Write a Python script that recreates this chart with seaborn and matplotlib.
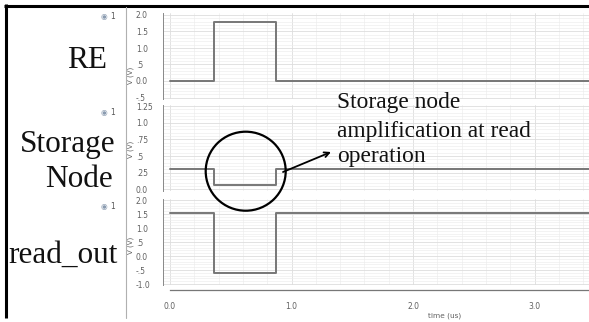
import matplotlib
matplotlib.use("Agg")
import matplotlib.pyplot as plt
from matplotlib.patches import Ellipse
from matplotlib.ticker import MultipleLocator
import seaborn as sns

# ---- data ----
time_us = [0.0, 0.36, 0.87, 3.45]
re_v = [0.0, 1.8, 0.0, 0.0]
sn_v = [0.30, 0.06, 0.30, 0.30]
ro_v = [1.55, -0.62, 1.55, 1.55]

re_ticks = [2.0, 1.5, 1.0, 0.5, 0.0, -0.5]
re_ticklabels = ["2.0", "1.5", "1.0", ".5", "0.0", "-.5"]
sn_ticks = [1.25, 1.0, 0.75, 0.5, 0.25, 0.0]
sn_ticklabels = ["1.25", "1.0", ".75", ".5", ".25", "0.0"]
ro_ticks = [2.0, 1.5, 1.0, 0.5, 0.0, -0.5, -1.0]
ro_ticklabels = ["2.0", "1.5", "1.0", ".5", "0.0", "-.5", "-1.0"]
x_ticks = [0.0, 1.0, 2.0, 3.0]
x_ticklabels = ["0.0", "1.0", "2.0", "3.0"]

signal_names = ["RE", "Storage\nNode", "read_out"]
annotation_lines = ["Storage node", "amplification at read", "operation"]

sns.set_style("white")
plt.rcParams["font.family"] = ["DejaVu Sans"]

W, H = 589, 322
fig = plt.figure(figsize=(W / 100, H / 100), dpi=100)
fig.patch.set_facecolor("white")

def px_axes(left, top, right, bottom):
    return fig.add_axes([left / W, 1 - bottom / H, (right - left) / W, (bottom - top) / H])

AX_L, AX_R = 163, 589
px_per_us = 121.5
x0 = (AX_L - 170) / px_per_us
x1 = (AX_R - 170) / px_per_us

LINE_C = "#777777"
TXT_C = "#606060"

panels = [
    # values, ylim, top_px, bottom_px, ticks, labels, minor, ylabel_y
    (re_v, (-0.55, 2.05), 13.35, 99.15, re_ticks, re_ticklabels, 0.1, 0.28),
    (sn_v, (-0.02, 1.27), 104.7, 190.8, sn_ticks, sn_ticklabels, 0.05, 0.485),
    (ro_v, (-1.05, 2.05), 198.6, 285.4, ro_ticks, ro_ticklabels, 0.1, 0.465),
]

axes = []
for i, (vals, ylim, top, bot, ticks, labels, minor, ylab_y) in enumerate(panels):
    ax = px_axes(AX_L, top, AX_R, bot)
    ax.set_facecolor("white")
    sns.lineplot(x=time_us, y=vals, ax=ax, drawstyle="steps-post",
                 color=LINE_C, lw=1.4, estimator=None, sort=False)
    ax.set_xlim(x0, x1)
    ax.set_ylim(*ylim)
    ax.set_yticks(ticks)
    ax.set_yticklabels(labels)
    ax.yaxis.set_minor_locator(MultipleLocator(minor))
    ax.xaxis.set_major_locator(MultipleLocator(1.0))
    ax.xaxis.set_minor_locator(MultipleLocator(0.2))
    ax.grid(which="major", color="#dddddd", lw=0.6)
    ax.grid(which="minor", color="#ececec", lw=0.45)
    ax.set_axisbelow(True)
    for s in ["top", "right"]:
        ax.spines[s].set_visible(False)
    ax.spines["left"].set_color("#888888")
    ax.spines["left"].set_linewidth(0.7)
    ax.tick_params(axis="y", which="major", direction="out", length=3, width=0.7,
                   color="#777777", labelsize=5.5, labelcolor=TXT_C, pad=16.5)
    ax.tick_params(axis="y", which="minor", direction="out", length=2, width=0.5,
                   color="#888888")
    for lab in ax.get_yticklabels():
        lab.set_horizontalalignment("left")
    ax.set_ylabel("V (V)", fontsize=5, color=TXT_C)
    ax.yaxis.set_label_coords(-0.069, ylab_y)
    if i < 2:
        ax.spines["bottom"].set_visible(False)
        ax.tick_params(axis="x", which="both", bottom=False, labelbottom=False)
        ax.set_xlabel("")
    else:
        ax.set_xticks(x_ticks)
        ax.set_xticklabels(x_ticklabels)
        ax.xaxis.set_minor_locator(MultipleLocator(0.2))
        ax.spines["bottom"].set_position(("outward", 3))
        ax.spines["bottom"].set_bounds(0.0, x1)
        ax.spines["bottom"].set_color("#777777")
        ax.spines["bottom"].set_linewidth(0.9)
        ax.tick_params(axis="x", which="major", direction="out", length=3, width=0.7,
                       color="#777777", labelsize=5.5, labelcolor=TXT_C, pad=6)
        ax.tick_params(axis="x", which="minor", direction="out", length=3, width=0.7,
                       color="#777777")
        ax.set_xlabel("time (us)", fontsize=5.3, color=TXT_C)
        ax.xaxis.set_label_coords((445 - AX_L) / (AX_R - AX_L), -0.31)
    axes.append(ax)

# ---- overlay for frame, labels and annotation ----
ov = fig.add_axes([0, 0, 1, 1])
ov.set_xlim(0, W)
ov.set_ylim(H, 0)
ov.axis("off")
ov.patch.set_alpha(0)

# frame
ov.plot([4, W], [5.5, 5.5], color="black", lw=2.2, solid_capstyle="butt")
ov.plot([5.5, 5.5], [4, 318], color="black", lw=2.2, solid_capstyle="butt")
# separator
ov.plot([126, 126], [7, 318], color="#b0b0b0", lw=0.8)

serif = ["Liberation Serif", "DejaVu Serif"]
ov.text(87, 68, signal_names[0], fontsize=22.5, family=serif, ha="center",
        va="baseline", color="#111111")
sn_lines = signal_names[1].split("\n")
ov.text(115, 151.7, sn_lines[0], fontsize=22.5, family=serif, ha="right",
        va="baseline", color="#111111")
ov.text(113, 186.7, sn_lines[1], fontsize=22.5, family=serif, ha="right",
        va="baseline", color="#111111")
ov.text(63, 263, signal_names[2], fontsize=22.5, family=serif, ha="center",
        va="baseline", color="#111111")

# eye icons
for y in [16, 112.5, 206]:
    ov.text(104, y, "\u25c9", fontsize=5.5, color="#8a9bb0", ha="center", va="center")
    ov.text(113, y, "1", fontsize=5.5, color="#555555", ha="center", va="center")

# annotation text
for txt, yb in zip(annotation_lines, [108, 136.7, 161.7]):
    ov.text(337, yb, txt, fontsize=16.8, family=serif, ha="left", va="baseline",
            color="#111111")

# circle and arrow
ov.add_patch(Ellipse((245.7, 171.2), 80, 79, fill=False, ec="black", lw=1.6))
ov.annotate("", xy=(331, 152), xytext=(283, 172),
            arrowprops=dict(arrowstyle="->", color="black", lw=1.3,
                            mutation_scale=9, shrinkA=0, shrinkB=0))

fig.savefig("out.png", dpi=100, facecolor="white")
